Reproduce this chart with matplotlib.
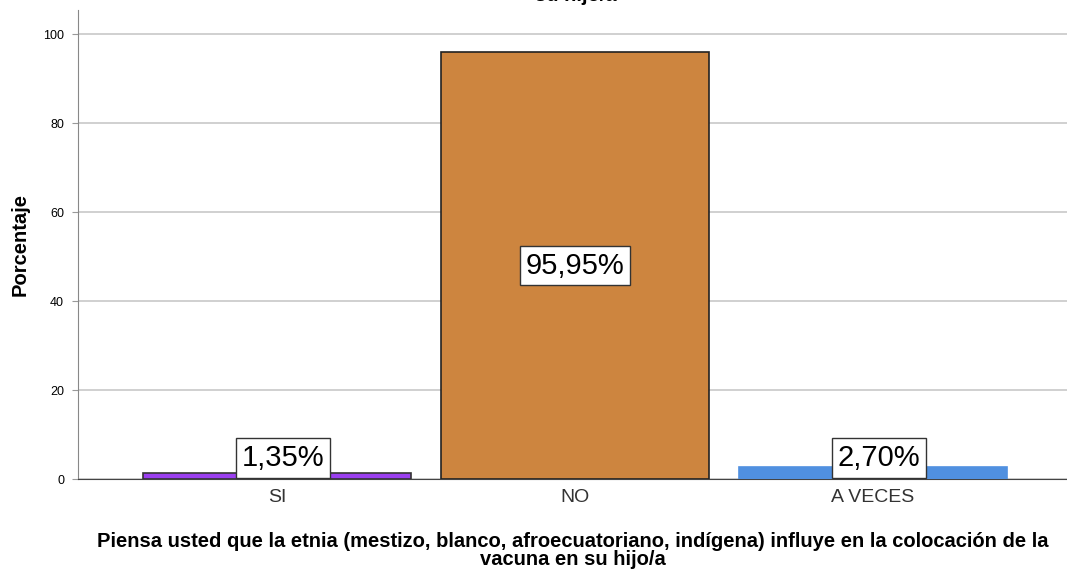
import matplotlib.pyplot as plt

plt.rcParams['font.family'] = ['Liberation Sans', 'DejaVu Sans']

categories = ["SI", "NO", "A VECES"]
percentages = [1.35, 95.95, 2.70]
labels = ["1,35%", "95,95%", "2,70%"]
colors = ["#9b3ff0", "#cd853f", "#5090e0"]
edges = ["#333333", "#222222", "#5090e0"]

fig = plt.figure(figsize=(10.67, 5.72), dpi=100)
ax = fig.add_axes([78 / 1067, 1 - 479 / 572, 989 / 1067, 469 / 572])

x = range(len(categories))
ax.bar(x, percentages, width=0.9, color=colors, edgecolor=edges, linewidth=1.2, zorder=3)

for i, (v, lab) in enumerate(zip(percentages, labels)):
    box = dict(boxstyle="square,pad=0.2", fc="white", ec="#333333", lw=1)
    if v > 10:
        ax.text(i, v / 2, lab, ha="center", va="center", fontsize=21, zorder=5, bbox=box)
    else:
        ax.text(i + 0.02, 1.6, lab, ha="center", va="bottom", fontsize=21, zorder=5, bbox=box)

ax.set_xlim(-0.668, 2.651)
ax.set_ylim(0, 105.4)
ax.set_yticks([0, 20, 40, 60, 80, 100])
ax.yaxis.grid(True, color="#c8c8c8", lw=1.2, zorder=0)
ax.set_xticks(list(x))
ax.set_xticklabels(categories, fontsize=14, color="#333333")
ax.tick_params(axis="x", length=0, pad=7)
ax.tick_params(axis="y", labelsize=9, length=4, color="#999999", pad=6)

for s in ["top", "right"]:
    ax.spines[s].set_visible(False)
ax.spines["left"].set_color("#888888")
ax.spines["bottom"].set_color("#444444")

ax.set_ylabel("Porcentaje", fontsize=14.5, fontweight="bold", labelpad=10)
ax.set_xlabel("Piensa usted que la etnia (mestizo, blanco, afroecuatoriano, indígena) influye en la colocación de la\nvacuna en su hijo/a",
              fontsize=14.5, fontweight="bold", labelpad=19, linespacing=0.9)

fig.text(0.54, 1.008, "su hijo/a", ha="center", va="center", fontsize=14.5, fontweight="bold")

fig.savefig("out.png", dpi=100)
